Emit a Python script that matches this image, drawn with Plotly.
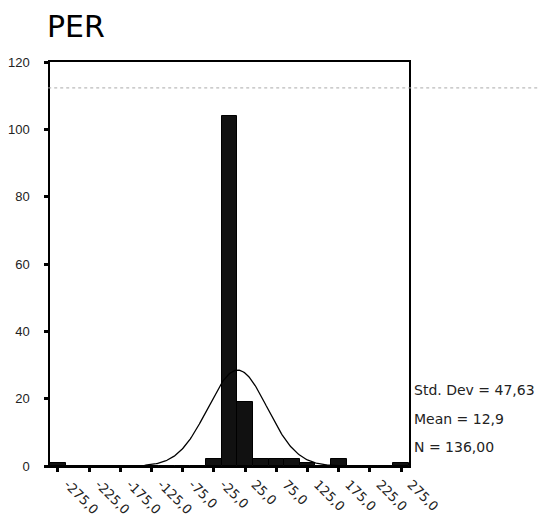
import numpy as np
import plotly.graph_objects as go

# Histogram bins (centers, width 25) and counts
bin_centers = [-275, -250, -225, -200, -175, -150, -125, -100, -75, -50, -25, 0,
               25, 50, 75, 100, 125, 150, 175, 200, 225, 250, 275]
counts = [1, 0, 0, 0, 0, 0, 0, 0, 0, 0, 2, 104,
          19, 2, 2, 2, 1, 0, 2, 0, 0, 0, 1]
bin_width = 25

tick_vals = [-275, -225, -175, -125, -75, -25, 25, 75, 125, 175, 225, 275]
tick_text = ["-275,0", "-225,0", "-175,0", "-125,0", "-75,0", "-25,0",
             "25,0", "75,0", "125,0", "175,0", "225,0", "275,0"]
y_ticks = [0, 20, 40, 60, 80, 100, 120]

std_dev = 47.63
mean = 12.9
n = 136

stats_text = ["Std. Dev = 47,63", "Mean = 12,9", "N = 136,00"]

ARIAL = "Liberation Sans, Arial, sans-serif"
DEJAVU = "DejaVu Sans, sans-serif"

# normal curve
xs = np.linspace(-287.5, 287.5, 400)
ys = n * bin_width / (std_dev * np.sqrt(2 * np.pi)) * np.exp(-0.5 * ((xs - mean) / std_dev) ** 2)

fig = go.Figure()
fig.add_trace(go.Bar(
    x=bin_centers, y=counts, width=[bin_width] * len(bin_centers),
    marker=dict(color="#111111", line=dict(color="black", width=1)),
    showlegend=False, hoverinfo="skip"))
fig.add_trace(go.Scatter(
    x=xs, y=ys, mode="lines", line=dict(color="black", width=1.3),
    showlegend=False, hoverinfo="skip"))

# page body has an 8px margin, so the figure is 8px smaller and shifted
W, H = 540, 508
fig.update_layout(
    width=W, height=H,
    margin=dict(l=42, r=139, t=54, b=50),
    paper_bgcolor="white", plot_bgcolor="white",
    bargap=0,
    font=dict(family=ARIAL, size=13, color="#222222"),
    title=dict(text="PER", x=39 / W, xanchor="left", y=1 - 18 / H, yanchor="middle",
               font=dict(family=DEJAVU, size=30, color="black")),
    xaxis=dict(range=[-287.5, 287.5], tickvals=tick_vals, ticktext=tick_text,
               tickangle=45, ticks="outside", ticklen=4, tickwidth=3, tickcolor="black",
               showgrid=False, zeroline=False, showline=True, linecolor="black",
               linewidth=1.5, mirror=True, automargin=False, ticklabelshift=10,
               tickfont=dict(family=DEJAVU, size=13, color="#222222")),
    yaxis=dict(range=[0, 120], tickvals=y_ticks,
               ticks="outside", ticklen=4, tickwidth=3, tickcolor="black",
               showgrid=False, zeroline=False, showline=True, linecolor="black",
               linewidth=1.5, mirror=True, automargin=False, ticklabelstandoff=12,
               tickfont=dict(family=ARIAL, size=13, color="#222222")),
)

for i, t in enumerate(stats_text):
    fig.add_annotation(text=t, xref="paper", yref="paper",
                       x=1.0, xshift=3, xanchor="left",
                       y=[0.188, 0.116, 0.047][i], yanchor="middle",
                       showarrow=False, font=dict(family=DEJAVU, size=14, color="#222222"))

# faint dotted scan line
fig.add_shape(type="line", xref="paper", yref="y", x0=-0.005, x1=1 + 139 / 359, y0=112.3, y1=112.3,
              line=dict(color="#aaaaaa", width=1, dash="dot"))

fig.write_html("out.html")
